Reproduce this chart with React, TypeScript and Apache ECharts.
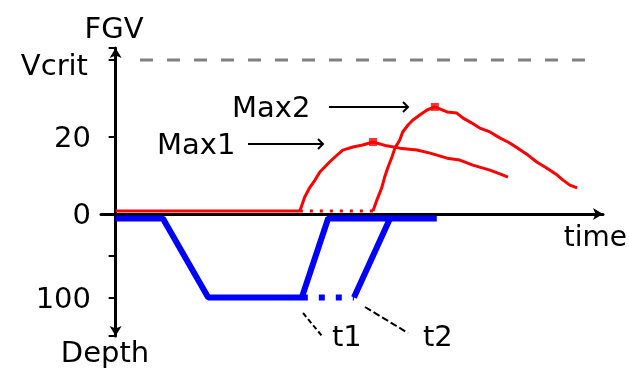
import React, { useEffect, useRef } from "react";
import * as echarts from "echarts";

// Time axis (arbitrary units), FGV (top) and Depth (bottom)
const fgvTicks = [0, 20, 40];
const fgvTickLabels = ["0", "20", "{v|Vcrit}"];
const depthTicks = [50, 100];
const depthTickLabels = ["", "100"];
const vcrit = 40;
const vcritSpan = [5, 97.3];

const surfaceFgv: number[][] = [[0, 0.8], [37.8, 0.8]];
const max1Curve: number[][] = [
  [37.8, 0.8], [38.8, 4.4], [39.8, 6.8], [40.9, 8.8], [41.9, 10.9], [42.9, 12.2],
  [43.9, 13.5], [45.0, 14.8], [46.6, 16.6], [48.7, 17.4], [50.7, 17.9], [52.8, 18.7],
  [55.6, 17.7], [58.3, 17.1], [61.8, 16.6], [64.5, 15.8], [68.0, 14.5], [70.6, 14.0],
  [73.3, 12.7], [76.8, 11.4], [79.5, 10.1], [80.5, 9.6],
];
const max2Flat: number[][] = [[37.8, 0.8], [52.8, 0.8]];
const max2Curve: number[][] = [
  [52.8, 0.8], [53.6, 3.6], [54.6, 6.8], [55.2, 9.6], [55.9, 12.2], [56.7, 14.8],
  [57.3, 17.1], [58.3, 19.2], [58.9, 21.3], [60.0, 23.1], [61.0, 24.4], [62.4, 25.7],
  [63.9, 27.0], [65.5, 27.8], [68.0, 26.5], [70.0, 26.2], [71.3, 24.9], [73.1, 23.6],
  [74.7, 22.3], [76.8, 21.3], [78.9, 19.7], [80.5, 18.7], [82.5, 17.1], [84.6, 15.3],
  [86.4, 13.5], [88.5, 11.9], [90.6, 10.1], [91.8, 8.8], [93.2, 7.5], [94.7, 6.8],
];
const maxPoints: number[][] = [[52.8, 18.7], [65.5, 27.8]];

const dive1: number[][] = [[0, 5.4], [9.7, 5.4], [19.0, 100], [38.2, 100], [43.6, 5.4], [65.9, 5.4]];
const dive2Wait: number[][] = [[38.2, 100], [48.9, 100]];
const dive2Ascent: number[][] = [[48.9, 100], [56.3, 5.4]];

const FONT = "DejaVu Sans";
const RED = "#ff0000";
const BLUE = "#0000ff";

export default function App() {
  const ref = useRef<HTMLDivElement>(null);
  useEffect(() => {
    if (!ref.current) return;
    const chart = echarts.init(ref.current, undefined, { renderer: "svg" });
    const txt = (text: string, x: number, y: number, align: string, size = 29) => ({
      type: "text",
      x,
      y,
      style: { text, fill: "#000", font: `${size}px "${FONT}"`, align, verticalAlign: "middle" },
    });
    const arrow = (x1: number, x2: number, y: number) => [
      { type: "line", shape: { x1, y1: y, x2, y2: y }, style: { stroke: "#000", lineWidth: 2 } },
      {
        type: "polyline",
        shape: { points: [[x2 - 5, y - 5], [x2, y], [x2 - 5, y + 5]] },
        style: { stroke: "#000", lineWidth: 2, fill: null },
      },
    ];
    const lineStyleRed = (w: number, type: any = "solid") => ({ color: RED, width: w, type });
    chart.setOption({
      animation: false,
      grid: [
        { left: 101, right: 26, top: 48, height: 166 },
        { left: 101, right: 26, top: 214, height: 122 },
      ],
      xAxis: [
        {
          gridIndex: 0, type: "value", min: -3, max: 100,
          axisLine: { show: true, onZero: true, symbol: ["none", "arrow"], symbolSize: [9, 10], lineStyle: { color: "#000", width: 3 } },
          axisTick: { show: false }, axisLabel: { show: false }, splitLine: { show: false },
        },
        {
          gridIndex: 1, type: "value", min: -3, max: 100, position: "top",
          axisLine: { show: false }, axisTick: { show: false }, axisLabel: { show: false }, splitLine: { show: false },
        },
      ],
      yAxis: [
        {
          gridIndex: 0, type: "value", min: 0, max: 43.1, interval: 20,
          axisLine: { show: true, onZero: true, symbol: ["none", "arrow"], symbolSize: [9, 10], lineStyle: { color: "#000", width: 3 } },
          axisTick: { show: true, length: 7, lineStyle: { color: "#000", width: 2 } },
          axisLabel: {
            margin: 10, color: "#000", fontFamily: FONT, fontSize: 29,
            rich: { v: { fontFamily: FONT, fontSize: 29, color: "#000", padding: [10, 3, 0, 0] } },
            formatter: (v: number) => {
              const i = fgvTicks.indexOf(Math.round(v * 10) / 10);
              return i >= 0 ? fgvTickLabels[i] : "";
            },
          },
          splitLine: { show: false },
        },
        {
          gridIndex: 1, type: "value", min: 0, max: 146, interval: 50, inverse: true,
          axisLine: { show: true, onZero: true, symbol: ["arrow", "none"], symbolSize: [9, 10], lineStyle: { color: "#000", width: 3 } },
          axisTick: { show: true, length: 7, lineStyle: { color: "#000", width: 2 } },
          axisLabel: {
            margin: 10, color: "#000", fontFamily: FONT, fontSize: 29,
            formatter: (v: number) => {
              const i = depthTicks.indexOf(v);
              return i >= 0 ? depthTickLabels[i] : "";
            },
          },
          splitLine: { show: false },
        },
      ],
      series: [
        {
          type: "line", xAxisIndex: 0, yAxisIndex: 0, showSymbol: false, z: 1,
          data: [[vcritSpan[0], vcrit], [vcritSpan[1], vcrit]],
          lineStyle: { color: "#808080", width: 3, type: [13, 14] },
        },
        { type: "line", xAxisIndex: 0, yAxisIndex: 0, showSymbol: false, data: surfaceFgv, lineStyle: lineStyleRed(3) },
        { type: "line", xAxisIndex: 0, yAxisIndex: 0, showSymbol: false, data: max1Curve, lineStyle: lineStyleRed(3) },
        { type: "line", xAxisIndex: 0, yAxisIndex: 0, showSymbol: false, data: max2Flat, lineStyle: lineStyleRed(3, [3, 7]) },
        { type: "line", xAxisIndex: 0, yAxisIndex: 0, showSymbol: false, data: max2Curve, lineStyle: lineStyleRed(3) },
        {
          type: "scatter", xAxisIndex: 0, yAxisIndex: 0, data: maxPoints, symbol: "rect", symbolSize: 8,
          itemStyle: { color: RED },
        },
        { type: "line", xAxisIndex: 1, yAxisIndex: 1, showSymbol: false, data: dive1, lineStyle: { color: BLUE, width: 6 } },
        { type: "line", xAxisIndex: 1, yAxisIndex: 1, showSymbol: false, data: dive2Wait, lineStyle: { color: BLUE, width: 6, type: [6, 11] } },
        { type: "line", xAxisIndex: 1, yAxisIndex: 1, showSymbol: false, data: dive2Ascent, lineStyle: { color: BLUE, width: 6 } },
      ],
      graphic: [
        txt("FGV", 114, 28, "center"),
        txt("Depth", 105, 352, "center"),
        txt("time", 627, 236, "right", 28),
        txt("Max1", 157, 144, "left"),
        txt("Max2", 232, 107, "left"),
        txt("t1", 332, 336, "left"),
        txt("t2", 423, 336, "left"),
        ...arrow(248, 323, 144),
        ...arrow(329, 408, 107),
        { type: "line", shape: { x1: 303, y1: 313, x2: 322, y2: 336 }, style: { stroke: "#000", lineWidth: 2, lineDash: [5, 3] } },
        { type: "line", shape: { x1: 365, y1: 307, x2: 408, y2: 333 }, style: { stroke: "#000", lineWidth: 2, lineDash: [7, 3] } },
      ],
    });
    return () => chart.dispose();
  }, []);
  return <div ref={ref} style={{ position: "fixed", left: 0, top: 0, width: 629, height: 368 }} />;
}
